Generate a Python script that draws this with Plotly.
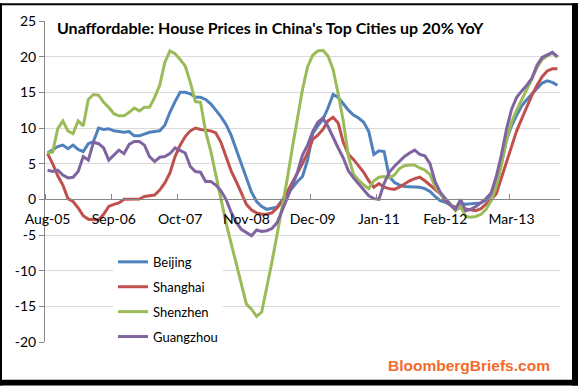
import plotly.graph_objects as go
import pandas as pd

# Categories: monthly, Aug-2005 .. Dec-2013
months = [d.strftime('%b-%y') for d in pd.date_range('2005-08-01', periods=101, freq='MS')]
x_labels = ['Aug-05', 'Sep-06', 'Oct-07', 'Nov-08', 'Dec-09', 'Jan-11', 'Feb-12', 'Mar-13']

y_tickvals = [25, 20, 15, 10, 5, 0, -5, -10, -15, -20]
y_ticktext = ['25', '20', '15', '10', '5', '0', '-5', '-10', '-15', '-20']

beijing = [
    6.5, 6.9, 7.4, 7.6, 7.1, 7.6, 7.0, 6.7, 7.8, 8.1,
    10.0, 9.8, 9.9, 9.6, 9.5, 9.4, 9.5, 8.9, 8.9, 9.2,
    9.4, 9.5, 9.6, 10.4, 12.2, 13.7, 15.0, 15.0, 14.8, 14.3,
    14.3, 14.0, 13.4, 12.5, 11.6, 10.5, 9.0, 7.0, 5.0, 2.8,
    1.0, -0.3, -1.0, -1.4, -1.2, -1.1, -0.1, 0.9, 1.6, 2.5,
    3.2, 5.5, 9.2, 10.3, 11.2, 12.8, 14.7, 14.3, 13.4, 12.5,
    11.8, 11.4, 10.8, 9.5, 6.3, 6.8, 6.7, 3.2, 2.4, 2.0,
    1.8, 1.8, 1.8, 1.7, 1.5, 1.1, 0.4, -0.2, -0.4, -0.8,
    -1.4, -0.5, -0.7, -0.6, -0.5, -0.5, -0.1, 0.7, 2.2, 5.0,
    8.3, 10.3, 11.8, 13.1, 14.0, 14.8, 15.6, 16.3, 16.6, 16.4,
    16.0,
]

shanghai = [
    6.4, 5.0, 3.3, 2.0, 0.1, -0.3, -1.2, -2.3, -2.8, -2.9,
    -2.9, -2.1, -1.0, -0.7, -0.5, 0.0, 0.0, 0.0, 0.05, 0.4,
    0.5, 0.6, 1.3, 2.3, 3.7, 6.0, 7.6, 8.8, 9.6, 10.0,
    9.8, 9.7, 9.6, 9.3, 8.0, 6.0, 4.0, 2.5, 0.8, -0.7,
    -1.5, -1.9, -2.1, -2.1, -1.9, -1.2, -0.3, 1.0, 2.3, 3.5,
    5.0, 6.5, 8.4, 9.0, 9.8, 11.0, 11.5, 10.7, 8.0, 6.3,
    5.6, 4.7, 3.8, 2.6, 1.7, 2.2, 1.7, 1.5, 1.4, 1.7,
    2.2, 2.6, 2.9, 3.1, 2.6, 2.0, 1.3, 0.8, -0.1, -0.8,
    -1.1, -1.2, -1.4, -1.5, -1.6, -1.3, -0.7, 0.0, 0.8, 3.0,
    5.2, 7.5, 9.6, 11.3, 13.0, 14.6, 16.0, 17.2, 18.0, 18.3,
    18.3,
]

shenzhen = [
    6.5, 6.6, 9.9, 11.0, 9.6, 9.2, 11.0, 10.3, 14.0, 14.7,
    14.6, 13.6, 12.9, 12.0, 11.7, 11.7, 12.2, 12.8, 12.4, 12.9,
    12.9, 14.3, 16.0, 19.2, 20.8, 20.4, 19.6, 18.7, 16.4, 13.7,
    13.6, 9.5, 6.8, 3.6, 0.1, -3.3, -6.1, -9.3, -12.1, -14.7,
    -15.4, -16.4, -15.8, -12.5, -8.8, -5.0, -1.2, 2.8, 7.2, 11.4,
    15.4, 18.6, 20.2, 20.8, 20.9, 20.1, 18.2, 14.8, 11.0, 6.0,
    3.5, 2.7, 2.0, 1.5, 2.6, 3.1, 3.2, 3.0, 3.4, 4.3,
    4.7, 4.8, 4.8, 4.4, 4.1, 3.5, 1.8, 0.8, 0.1, -0.6,
    -1.6, -1.0, -2.4, -2.5, -2.4, -2.1, -1.4, -0.2, 1.8, 4.8,
    8.3, 10.8, 12.5, 13.9, 15.4, 16.9, 18.5, 19.6, 20.1, 20.5,
    19.9,
]

guangzhou = [
    4.1, 3.9, 4.1, 3.4, 3.0, 3.1, 3.9, 6.0, 5.5, 8.0,
    7.8, 7.2, 5.5, 6.2, 6.9, 6.4, 7.7, 8.1, 8.1, 7.6,
    6.0, 5.3, 5.9, 6.0, 6.4, 7.2, 6.9, 6.5, 4.6, 3.9,
    3.8, 2.5, 2.5, 2.0, 1.2, 0.0, -1.8, -3.2, -4.2, -4.7,
    -5.1, -4.3, -4.5, -4.4, -4.1, -3.3, -1.6, 0.3, 1.9, 3.8,
    6.2, 7.6, 9.5, 10.8, 11.4, 10.2, 8.6, 7.2, 5.8, 4.0,
    3.0, 2.2, 1.3, 0.5, 0.1, 0.0, 2.2, 3.8, 4.6, 5.3,
    6.0, 6.5, 6.9, 6.3, 6.1, 5.0, 2.5, 1.0, 0.1, -0.8,
    -1.4, 0.0, -1.6, -1.4, -1.0, -0.4, 0.1, 0.9, 3.2, 6.2,
    9.8, 12.6, 14.3, 15.2, 16.0, 17.0, 18.8, 19.9, 20.3, 20.6,
    20.0,
]

series = [
    ('Beijing', beijing, '#4F81BD'),
    ('Shanghai', shanghai, '#C0504D'),
    ('Shenzhen', shenzhen, '#9BBB59'),
    ('Guangzhou', guangzhou, '#8064A2'),
]

FONT = "Lato, 'Open Sans', sans-serif"
W, H = 578, 386
L, R, T, B = 45, 18, 18, 44
PW, PH = W - L - R, H - T - B

def px_x(p):
    return (p - L) / PW

def px_y(p):
    return (H - B - p) / PH

xpos = list(range(len(months)))
fig = go.Figure()
for name, vals, col in series:
    fig.add_trace(go.Scatter(
        x=xpos, y=vals, name=name, mode='lines', legendgroup=name,
        line=dict(color=col, width=3), text=months,
        hovertemplate='%{text}: %{y}<extra>' + name + '</extra>'))

tickvals = [months.index(l) for l in x_labels]

fig.update_layout(
    width=W, height=H,
    margin=dict(l=L, r=R, t=T, b=B, pad=0),
    paper_bgcolor='white', plot_bgcolor='white',
    font=dict(family=FONT, size=14, color='black'),
    showlegend=True,
    legend=dict(x=px_x(113), y=px_y(246), xanchor='left', yanchor='top',
                bgcolor='white', font=dict(size=13, color='black'),
                tracegroupgap=5, itemwidth=30),
    xaxis=dict(range=[-0.5, len(months) - 0.5], showgrid=False, zeroline=False,
               anchor='free', position=20 / 45,
               showline=True, linecolor='#868686', linewidth=1,
               tickmode='array', tickvals=tickvals, ticktext=x_labels,
               ticks='', ticklabelstandoff=7,
               tickfont=dict(size=14, color='black'),
               minor=dict(tickmode='array', tickvals=[v - 0.5 for v in tickvals],
                          ticks='inside', ticklen=5, tickcolor='#868686', tickwidth=1)),
    yaxis=dict(range=[-20, 25], tickmode='array', tickvals=y_tickvals, ticktext=y_ticktext,
               showgrid=True, gridcolor='#D9D9D9', gridwidth=1, zeroline=False,
               showline=True, linecolor='#868686', linewidth=1,
               ticks='outside', ticklen=5, tickcolor='#868686',
               tickfont=dict(size=14, color='black')),
    annotations=[
        dict(text="Unaffordable: House Prices in China's Top Cities up 20% YoY",
             xref='paper', yref='paper', x=px_x(55), y=px_y(25),
             xanchor='left', yanchor='middle', showarrow=False,
             font=dict(family=FONT, size=16, color='black', weight='bold')),
        dict(text='BloombergBriefs.com', xref='paper', yref='paper',
             x=px_x(386), y=px_y(366), xanchor='left', yanchor='middle', showarrow=False,
             font=dict(family="'Liberation Sans', Arial, sans-serif", size=15.5,
                       color='#F36B2B', weight='bold')),
    ],
    shapes=[
        dict(type='rect', xref='paper', yref='paper', layer='above', line=dict(width=0),
             fillcolor='black', x0=px_x(0), x1=px_x(W), y0=px_y(0), y1=px_y(2)),
        dict(type='rect', xref='paper', yref='paper', layer='above', line=dict(width=0),
             fillcolor='black', x0=px_x(0), x1=px_x(2), y0=px_y(0), y1=px_y(H)),
        dict(type='rect', xref='paper', yref='paper', layer='above', line=dict(width=0),
             fillcolor='black', x0=px_x(572), x1=px_x(W), y0=px_y(0), y1=px_y(H)),
        dict(type='rect', xref='paper', yref='paper', layer='above', line=dict(width=0),
             fillcolor='black', x0=px_x(0), x1=px_x(W), y0=px_y(380), y1=px_y(H)),
    ],
)

fig.write_html('out.html', config={'displayModeBar': False},
               post_script="document.body.style.margin='0';document.body.style.overflow='hidden';")
